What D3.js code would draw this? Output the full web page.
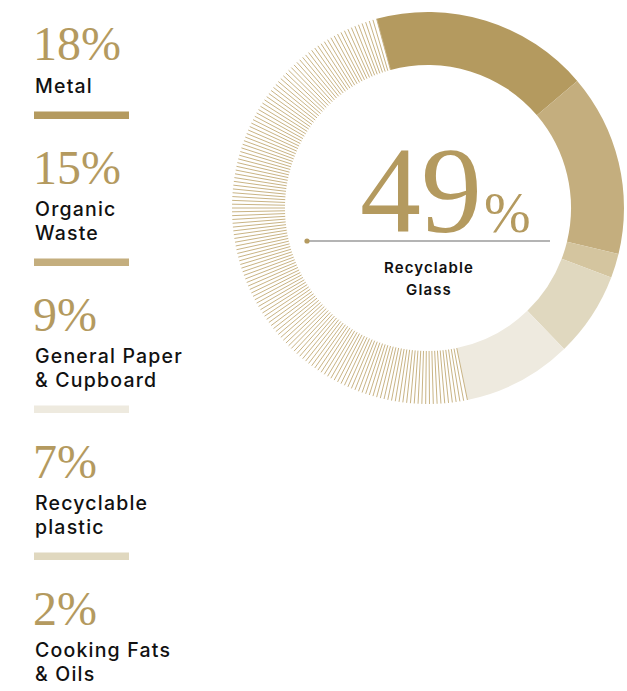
<!DOCTYPE html>
<html>
<head>
<meta charset="utf-8">
<script src="https://cdn.jsdelivr.net/npm/d3@7"></script>
<style>
  html, body { margin: 0; padding: 0; background: #ffffff; }
  svg { display: block; }
</style>
</head>
<body>
<script>
// ---- data ----
const categories = ["Metal", "Organic Waste", "Cooking Fats & Oils", "Recyclable plastic", "General Paper & Cupboard", "Recyclable Glass"];
const values = [18, 15, 2, 7, 9, 49];
const colors = ["#b49a5f", "#c4ae7e", "#d4c59f", "#e0d8bf", "#eeeadf", "#c9b485"];
const legendOrder = ["Metal", "Organic Waste", "General Paper & Cupboard", "Recyclable plastic", "Cooking Fats & Oils"];
const legendLines = {
  "Metal": ["Metal"],
  "Organic Waste": ["Organic", "Waste"],
  "General Paper & Cupboard": ["General Paper", "& Cupboard"],
  "Recyclable plastic": ["Recyclable", "plastic"],
  "Cooking Fats & Oils": ["Cooking Fats", "& Oils"]
};
const centerCategory = "Recyclable Glass";
const centerLines = ["Recyclable", "Glass"];

// ---- setup ----
const W = 627, H = 691;
const svg = d3.select("body").append("svg").attr("width", W).attr("height", H);
const serif = "'Liberation Serif', 'DejaVu Serif', serif";
const sans = "Inter, 'Noto Sans', sans-serif";
const gold = "#b49a5f";

const color = d3.scaleOrdinal().domain(categories).range(colors);
const valueOf = d3.scaleOrdinal().domain(categories).range(values);

// ---- donut ----
const cx = 428, cy = 208, rOuter = 196, rInner = 143;
const start = -15.2 * Math.PI / 180;
const pie = d3.pie().sort(null).value(d => d.v).startAngle(start).endAngle(start + 2 * Math.PI);
const arcs = pie(categories.map((c, i) => ({ c, v: values[i] })));
const arc = d3.arc().innerRadius(rInner).outerRadius(rOuter);
const g = svg.append("g").attr("transform", `translate(${cx},${cy})`);

arcs.forEach(a => {
  if (a.data.c === centerCategory) {
    // hatched segment: thin radial rules
    const n = 158;
    const angles = d3.range(n + 1).map(i => a.startAngle + (a.endAngle - a.startAngle) * i / n);
    g.selectAll(null).data(angles).enter().append("line")
      .attr("x1", t => rInner * Math.sin(t))
      .attr("y1", t => -rInner * Math.cos(t))
      .attr("x2", t => rOuter * Math.sin(t))
      .attr("y2", t => -rOuter * Math.cos(t))
      .attr("stroke", color(a.data.c))
      .attr("stroke-width", 1);
  } else {
    g.append("path").attr("d", arc(a)).attr("fill", color(a.data.c));
  }
});

// ---- center label ----
const cg = svg.append("g");
cg.append("text").attr("x", 360).attr("y", 232)
  .attr("font-family", serif).attr("font-size", 122).attr("fill", gold)
  .text(String(valueOf(centerCategory)));
cg.append("text").attr("x", 484).attr("y", 232)
  .attr("font-family", serif).attr("font-size", 56).attr("fill", gold)
  .text("%");
cg.append("line").attr("x1", 307).attr("x2", 550).attr("y1", 241).attr("y2", 241)
  .attr("stroke", "#9b9b9b").attr("stroke-width", 1.5);
cg.append("circle").attr("cx", 307).attr("cy", 241).attr("r", 2.6).attr("fill", gold);
centerLines.forEach((t, i) => {
  cg.append("text").attr("x", cx + 1).attr("y", 273 + i * 22)
    .attr("text-anchor", "middle")
    .attr("font-family", sans).attr("font-weight", 600).attr("font-size", 15)
    .attr("letter-spacing", 1.1)
    .attr("fill", "#111").text(t);
});

// ---- legend ----
let y = 60;
const lx = 34;
legendOrder.forEach(cat => {
  const lg = svg.append("g");
  lg.append("text").attr("x", lx - 1).attr("y", y)
    .attr("font-family", serif).attr("font-size", 48).attr("fill", gold)
    .text(valueOf(cat) + "%");
  const lines = legendLines[cat];
  const ly = y + 32.5;
  lines.forEach((t, i) => {
    lg.append("text").attr("x", lx + 1).attr("y", ly + i * 23.5)
      .attr("font-family", sans).attr("font-weight", 500).attr("font-size", 19.5)
      .attr("letter-spacing", 1.2)
      .attr("fill", "#111").text(t);
  });
  const lastBase = ly + (lines.length - 1) * 23.5;
  const barY = lastBase + 19;
  lg.append("rect").attr("x", lx).attr("y", barY).attr("width", 95).attr("height", 7.5)
    .attr("fill", color(cat));
  y = barY + 72;
});
</script>
</body>
</html>
